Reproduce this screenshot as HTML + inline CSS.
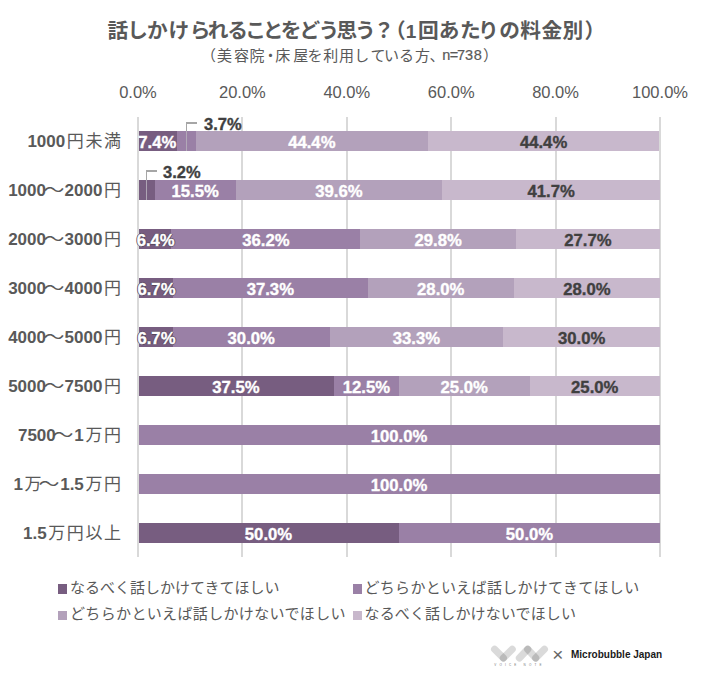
<!DOCTYPE html>
<html><head><meta charset="utf-8">
<style>
html,body{margin:0;padding:0;background:#fff;}
body{width:701px;height:686px;position:relative;overflow:hidden;font-family:"Liberation Sans","Noto Sans CJK JP",sans-serif;}
.t{position:absolute;white-space:nowrap;}
.tc,.tc1,.sc,.sc1{position:absolute;white-space:nowrap;line-height:30px;color:#595959;}
.tc{font-family:"Noto Sans CJK JP",sans-serif;font-weight:bold;font-size:20.7px;}
.tc1{font-family:"Liberation Sans",sans-serif;font-weight:bold;font-size:19px;}
.sc{font-family:"Noto Sans CJK JP",sans-serif;font-size:15px;}
.sc1{font-family:"Liberation Sans",sans-serif;font-size:14.5px;-webkit-text-stroke:0.2px #595959;}
.gl{position:absolute;top:117px;height:440px;width:2px;background:#d9d9d9;}
.ax{position:absolute;top:80px;width:80px;text-align:center;font-size:16.5px;line-height:24px;color:#595959;}
.cat{position:absolute;right:580px;height:40px;line-height:40px;font-size:17px;font-weight:bold;color:#595959;white-space:nowrap;}
.cat .j{font-weight:normal;font-family:"Noto Sans CJK JP",sans-serif;margin-left:1.6px;}
.cat .w{display:inline-block;transform:translateX(-2.6px) scaleX(1.23);}
.seg{position:absolute;height:20px;}
.dl{-webkit-text-stroke-width:0.35px;position:absolute;z-index:2;width:100px;text-align:center;height:40px;line-height:40px;font-size:16.7px;font-weight:bold;white-space:nowrap;}
.ll{position:absolute;background:#a6a6a6;}
.ol{-webkit-text-stroke-width:0.35px;position:absolute;font-size:16.5px;font-weight:bold;color:#404040;line-height:20px;white-space:nowrap;}
.lg{position:absolute;font-size:15px;color:#595959;white-space:nowrap;line-height:20px;font-family:"Noto Sans CJK JP",sans-serif;}
.sw{position:absolute;width:9px;height:9.9px;}
</style></head><body>
<span class='tc' style='left:107.5px;top:13.7px'>話</span>
<span class='tc' style='left:127.2px;top:13.7px'>し</span>
<span class='tc' style='left:147.0px;top:13.7px'>か</span>
<span class='tc' style='left:168.6px;top:13.7px'>け</span>
<span class='tc' style='left:189.8px;top:13.7px'>ら</span>
<span class='tc' style='left:207.8px;top:13.7px'>れ</span>
<span class='tc' style='left:227.2px;top:13.7px'>る</span>
<span class='tc' style='left:245.2px;top:13.7px'>こ</span>
<span class='tc' style='left:262.7px;top:13.7px'>と</span>
<span class='tc' style='left:280.8px;top:13.7px'>を</span>
<span class='tc' style='left:299.4px;top:13.7px'>ど</span>
<span class='tc' style='left:318.6px;top:13.7px'>う</span>
<span class='tc' style='left:336.6px;top:13.7px'>思</span>
<span class='tc' style='left:354.9px;top:13.7px'>う</span>
<span class='tc' style='left:373.4px;top:13.7px'>？</span>
<span class='tc' style='left:385.1px;top:13.7px'>（</span>
<span class='tc' style='left:418.1px;top:13.7px'>回</span>
<span class='tc' style='left:438.8px;top:13.7px'>あ</span>
<span class='tc' style='left:459.9px;top:13.7px'>た</span>
<span class='tc' style='left:477.9px;top:13.7px'>り</span>
<span class='tc' style='left:499.2px;top:13.7px'>の</span>
<span class='tc' style='left:520.3px;top:13.7px'>料</span>
<span class='tc' style='left:541.5px;top:13.7px'>金</span>
<span class='tc' style='left:562.4px;top:13.7px'>別</span>
<span class='tc' style='left:584.5px;top:13.7px'>）</span>
<span class='tc1' style='left:405.8px;top:16.7px'>1</span>
<span class='sc' style='left:201.0px;top:40.3px'>（</span>
<span class='sc' style='left:216.9px;top:40.3px'>美</span>
<span class='sc' style='left:233.9px;top:40.3px'>容</span>
<span class='sc' style='left:249.5px;top:40.3px'>院</span>
<span class='sc' style='left:263.0px;top:40.3px'>・</span>
<span class='sc' style='left:275.3px;top:40.3px'>床</span>
<span class='sc' style='left:293.2px;top:40.3px'>屋</span>
<span class='sc' style='left:307.5px;top:40.3px'>を</span>
<span class='sc' style='left:323.2px;top:40.3px'>利</span>
<span class='sc' style='left:339.0px;top:40.3px'>用</span>
<span class='sc' style='left:354.2px;top:40.3px'>し</span>
<span class='sc' style='left:370.4px;top:40.3px'>て</span>
<span class='sc' style='left:384.0px;top:40.3px'>い</span>
<span class='sc' style='left:399.0px;top:40.3px'>る</span>
<span class='sc' style='left:415.0px;top:40.3px'>方</span>
<span class='sc' style='left:429.5px;top:40.3px'>、</span>
<span class='sc' style='left:482.9px;top:40.3px'>）</span>
<span class='sc1' style='left:442.2px;top:40.3px'>n</span>
<span class='sc1' style='left:449.8px;top:40.3px'>=</span>
<span class='sc1' style='left:456.9px;top:40.3px'>7</span>
<span class='sc1' style='left:464.9px;top:40.3px'>3</span>
<span class='sc1' style='left:473.8px;top:40.3px'>8</span>
<div class="gl" style="left:137.0px"></div>
<div class="ax" style="left:98.0px">0.0%</div>
<div class="gl" style="left:241.4px"></div>
<div class="ax" style="left:202.4px">20.0%</div>
<div class="gl" style="left:345.8px"></div>
<div class="ax" style="left:306.8px">40.0%</div>
<div class="gl" style="left:450.2px"></div>
<div class="ax" style="left:411.2px">60.0%</div>
<div class="gl" style="left:554.6px"></div>
<div class="ax" style="left:515.6px">80.0%</div>
<div class="gl" style="left:659.0px"></div>
<div class="ax" style="left:620.0px">100.0%</div>
<div class="cat" style="top:120px">1000<span class="j">円</span><span class="j">未</span><span class="j">満</span></div>
<div class="seg" style="left:138.00px;top:131px;width:38.63px;background:#775d80"></div>
<div class="dl" style="left:107.31px;top:122.7px;color:#fff">7.4%</div>
<div class="seg" style="left:176.63px;top:131px;width:19.31px;background:#9a80a6"></div>
<div class="seg" style="left:195.94px;top:131px;width:231.77px;background:#b3a1bb"></div>
<div class="dl" style="left:261.83px;top:122.7px;color:#fff">44.4%</div>
<div class="seg" style="left:427.71px;top:131px;width:231.77px;background:#c8b8cc"></div>
<div class="dl" style="left:493.59px;top:122.7px;color:#404040">44.4%</div>
<div class="cat" style="top:169px">1000<span class="j w">〜</span>2000<span class="j">円</span></div>
<div class="seg" style="left:138.00px;top:180px;width:16.70px;background:#775d80"></div>
<div class="seg" style="left:154.70px;top:180px;width:80.91px;background:#9a80a6"></div>
<div class="dl" style="left:145.16px;top:171.7px;color:#fff">15.5%</div>
<div class="seg" style="left:235.61px;top:180px;width:206.71px;background:#b3a1bb"></div>
<div class="dl" style="left:288.97px;top:171.7px;color:#fff">39.6%</div>
<div class="seg" style="left:442.33px;top:180px;width:217.67px;background:#c8b8cc"></div>
<div class="dl" style="left:501.16px;top:171.7px;color:#404040">41.7%</div>
<div class="cat" style="top:218px">2000<span class="j w">〜</span>3000<span class="j">円</span></div>
<div class="seg" style="left:138.00px;top:229px;width:33.41px;background:#775d80"></div>
<div class="dl" style="left:105.70px;top:220.7px;color:#fff;text-shadow:-1px 0 0 #55465c,1px 0 0 #55465c,0 1px 0 #55465c,0 -1px 0 #55465c">6.4%</div>
<div class="seg" style="left:171.41px;top:229px;width:188.96px;background:#9a80a6"></div>
<div class="dl" style="left:215.89px;top:220.7px;color:#fff">36.2%</div>
<div class="seg" style="left:360.37px;top:229px;width:155.56px;background:#b3a1bb"></div>
<div class="dl" style="left:388.15px;top:220.7px;color:#fff">29.8%</div>
<div class="seg" style="left:515.93px;top:229px;width:144.07px;background:#c8b8cc"></div>
<div class="dl" style="left:537.96px;top:220.7px;color:#404040">27.7%</div>
<div class="cat" style="top:267px">3000<span class="j w">〜</span>4000<span class="j">円</span></div>
<div class="seg" style="left:138.00px;top:278px;width:34.97px;background:#775d80"></div>
<div class="dl" style="left:106.49px;top:269.7px;color:#fff;text-shadow:-1px 0 0 #55465c,1px 0 0 #55465c,0 1px 0 #55465c,0 -1px 0 #55465c">6.7%</div>
<div class="seg" style="left:172.97px;top:278px;width:194.71px;background:#9a80a6"></div>
<div class="dl" style="left:220.33px;top:269.7px;color:#fff">37.3%</div>
<div class="seg" style="left:367.68px;top:278px;width:146.16px;background:#b3a1bb"></div>
<div class="dl" style="left:390.76px;top:269.7px;color:#fff">28.0%</div>
<div class="seg" style="left:513.84px;top:278px;width:146.16px;background:#c8b8cc"></div>
<div class="dl" style="left:536.92px;top:269.7px;color:#404040">28.0%</div>
<div class="cat" style="top:316px">4000<span class="j w">〜</span>5000<span class="j">円</span></div>
<div class="seg" style="left:138.00px;top:327px;width:34.97px;background:#775d80"></div>
<div class="dl" style="left:106.49px;top:318.7px;color:#fff;text-shadow:-1px 0 0 #55465c,1px 0 0 #55465c,0 1px 0 #55465c,0 -1px 0 #55465c">6.7%</div>
<div class="seg" style="left:172.97px;top:327px;width:156.60px;background:#9a80a6"></div>
<div class="dl" style="left:201.27px;top:318.7px;color:#fff">30.0%</div>
<div class="seg" style="left:329.57px;top:327px;width:173.83px;background:#b3a1bb"></div>
<div class="dl" style="left:366.49px;top:318.7px;color:#fff">33.3%</div>
<div class="seg" style="left:503.40px;top:327px;width:156.60px;background:#c8b8cc"></div>
<div class="dl" style="left:531.70px;top:318.7px;color:#404040">30.0%</div>
<div class="cat" style="top:365px">5000<span class="j w">〜</span>7500<span class="j">円</span></div>
<div class="seg" style="left:138.00px;top:376px;width:195.75px;background:#775d80"></div>
<div class="dl" style="left:185.88px;top:367.7px;color:#fff">37.5%</div>
<div class="seg" style="left:333.75px;top:376px;width:65.25px;background:#9a80a6"></div>
<div class="dl" style="left:316.38px;top:367.7px;color:#fff">12.5%</div>
<div class="seg" style="left:399.00px;top:376px;width:130.50px;background:#b3a1bb"></div>
<div class="dl" style="left:414.25px;top:367.7px;color:#fff">25.0%</div>
<div class="seg" style="left:529.50px;top:376px;width:130.50px;background:#c8b8cc"></div>
<div class="dl" style="left:544.75px;top:367.7px;color:#404040">25.0%</div>
<div class="cat" style="top:414px">7500<span class="j w">〜</span>1<span class="j">万</span><span class="j">円</span></div>
<div class="seg" style="left:138.00px;top:425px;width:522.00px;background:#9a80a6"></div>
<div class="dl" style="left:349.00px;top:416.7px;color:#fff">100.0%</div>
<div class="cat" style="top:463px">1<span class="j">万</span><span class="j w">〜</span>1.5<span class="j">万</span><span class="j">円</span></div>
<div class="seg" style="left:138.00px;top:474px;width:522.00px;background:#9a80a6"></div>
<div class="dl" style="left:349.00px;top:465.7px;color:#fff">100.0%</div>
<div class="cat" style="top:512px">1.5<span class="j">万</span><span class="j">円</span><span class="j">以</span><span class="j">上</span></div>
<div class="seg" style="left:138.00px;top:523px;width:261.00px;background:#775d80"></div>
<div class="dl" style="left:218.50px;top:514.7px;color:#fff">50.0%</div>
<div class="seg" style="left:399.00px;top:523px;width:261.00px;background:#9a80a6"></div>
<div class="dl" style="left:479.50px;top:514.7px;color:#fff">50.0%</div>
<div class="gl" style="left:137px;top:117px"></div>
<div class="ll" style="left:185.6px;top:122px;width:1.6px;height:9px"></div>
<div class="ll" style="left:185.6px;top:131px;width:1.6px;height:20px;background:#b2a9b8"></div>
<div class="ll" style="left:185.6px;top:122px;width:11.4px;height:1.6px"></div>
<div class="ol" style="left:204px;top:114.3px">3.7%</div>
<div class="ll" style="left:145.5px;top:170.3px;width:1.6px;height:9.7px"></div>
<div class="ll" style="left:145.5px;top:180px;width:1.6px;height:20px;background:#aea4b4"></div>
<div class="ll" style="left:145.5px;top:170.3px;width:11.5px;height:1.6px"></div>
<div class="ol" style="left:163px;top:162.2px">3.2%</div>
<div class="sw" style="left:58px;top:584.3px;background:#775d80"></div>
<div class="lg" style="left:70px;top:576.5px">なるべく話しかけてきてほしい</div>
<div class="sw" style="left:353px;top:584.3px;background:#9a80a6"></div>
<div class="lg" style="left:364.5px;top:576.5px;letter-spacing:0.3px">どちらかといえば話しかけてきてほしい</div>
<div class="sw" style="left:58px;top:610.5px;background:#b3a1bb"></div>
<div class="lg" style="left:70px;top:603px;letter-spacing:0.35px">どちらかといえば話しかけないでほしい</div>
<div class="sw" style="left:353px;top:610.5px;background:#c8b8cc"></div>
<div class="lg" style="left:364.5px;top:603px;letter-spacing:0.15px">なるべく話しかけないでほしい</div>
<svg style="position:absolute;left:0;top:0" width="701" height="686">
<g stroke="#000" stroke-opacity="0.145" stroke-width="7.2" stroke-linecap="round" fill="none">
<line x1="494.6" y1="649.3" x2="503.4" y2="658"/>
<line x1="503.4" y1="658" x2="512.2" y2="649.3"/>
<line x1="519.4" y1="658" x2="527.7" y2="649.3"/>
<line x1="527.7" y1="649.3" x2="535.7" y2="658"/>
<line x1="535.7" y1="658" x2="544.4" y2="649.3"/>
</g>
<text x="519.5" y="665.8" font-family="Liberation Sans, sans-serif" font-size="3" fill="#777" text-anchor="middle" letter-spacing="3.2">VOICE NOTE</text>
</svg>
<div class="t" style="left:552.3px;top:643px;font-size:19px;line-height:24px;color:#666;">×</div>
<div class="t" style="left:571px;top:649px;font-size:10px;line-height:12px;font-weight:bold;color:#1a1a1a;">Microbubble Japan</div>
</body></html>
